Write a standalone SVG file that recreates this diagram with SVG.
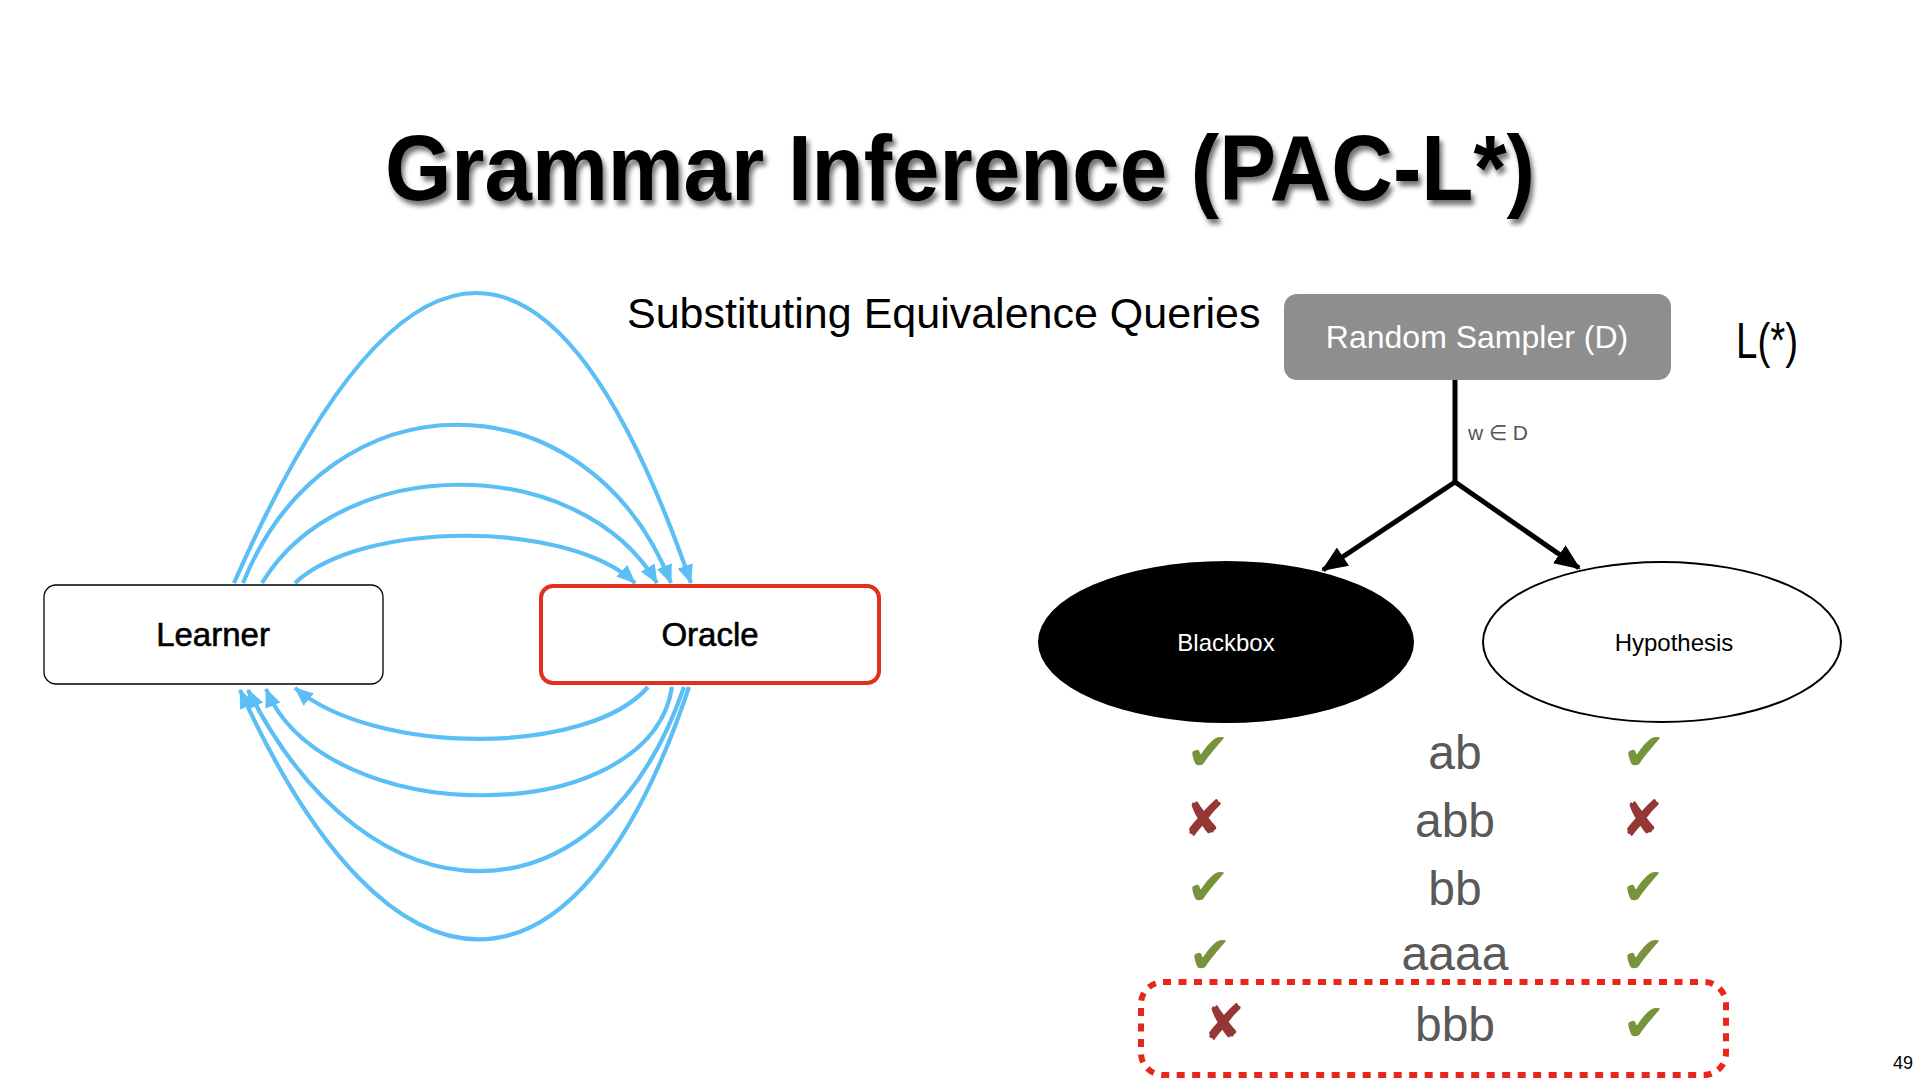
<svg xmlns="http://www.w3.org/2000/svg" width="1920" height="1080" viewBox="0 0 1920 1080">
<style>
.t{font-family:"Liberation Sans",Arial,sans-serif}
.blue{fill:none;stroke:#5bbff5;stroke-width:4.2}
.node{font-family:"Liberation Sans",Arial,sans-serif;font-size:33px;text-anchor:middle;fill:#000;stroke:#000;stroke-width:0.6}
.word{font-family:"Liberation Sans",Arial,sans-serif;font-size:48px;text-anchor:middle;fill:#595959}
.ok{font-family:"DejaVu Sans",sans-serif;font-size:52px;text-anchor:middle;fill:#77933c}
.no{font-family:"DejaVu Sans",sans-serif;font-size:50px;text-anchor:middle;fill:#953735}
</style>
<defs>
<filter id="sh" x="-5%" y="-20%" width="110%" height="150%">
<feGaussianBlur in="SourceAlpha" stdDeviation="2.5"/>
<feOffset dx="3" dy="5" result="b"/>
<feComponentTransfer><feFuncA type="linear" slope="0.55"/></feComponentTransfer>
<feMerge><feMergeNode/><feMergeNode in="SourceGraphic"/></feMerge>
</filter>
<marker id="ab" markerUnits="userSpaceOnUse" markerWidth="19" markerHeight="16" refX="18" refY="8" orient="auto">
<path d="M0,0 L19,8 L0,16 z" fill="#5bbff5"/>
</marker>
<marker id="ak" markerUnits="userSpaceOnUse" markerWidth="26" markerHeight="22" refX="24" refY="11" orient="auto">
<path d="M0,0 L26,11 L0,22 z" fill="#000"/>
</marker>
</defs>
<rect width="1920" height="1080" fill="#fff"/>

<text class="t" x="960" y="200" font-size="92" font-weight="bold" text-anchor="middle" textLength="1150" lengthAdjust="spacingAndGlyphs" filter="url(#sh)">Grammar Inference (PAC-L*)</text>

<text class="t" x="627" y="328" font-size="43">Substituting Equivalence Queries</text>

<g id="connectors">
<path class="blue" marker-end="url(#ab)" d="M234,583 Q490,3 691,583"/>
<path class="blue" marker-end="url(#ab)" d="M243,583 C328,372 587,372 671,583"/>
<path class="blue" marker-end="url(#ab)" d="M262,583 C341,452 579,452 657,583"/>
<path class="blue" marker-end="url(#ab)" d="M295,583 C363,520 568,520 635,583"/>
<path class="blue" marker-end="url(#ab)" d="M648,687 C588,756 376,756 295,688"/>
<path class="blue" marker-end="url(#ab)" d="M672,687 C650,831 325,831 266,689"/>
<path class="blue" marker-end="url(#ab)" d="M684,687 C600,932 370,932 248,690"/>
<path class="blue" marker-end="url(#ab)" d="M689,687 C577,1023 391,1023 240,690"/>
<path d="M1455,378 V482" fill="none" stroke="#000" stroke-width="5"/>
<path d="M1455,482 L1323,570" fill="none" stroke="#000" stroke-width="5" marker-end="url(#ak)"/>
<path d="M1455,482 L1579,568" fill="none" stroke="#000" stroke-width="5" marker-end="url(#ak)"/>
<text class="t" x="1468" y="440" font-size="21" fill="#555">w ∈ D</text>
</g>

<g id="learner">
<rect x="44" y="585" width="339" height="99" rx="12" fill="#fff" stroke="#000" stroke-width="1.3"/>
<text class="node" x="213" y="646">Learner</text>
</g>

<g id="oracle">
<rect x="541" y="586" width="338" height="97" rx="12" fill="#fff" stroke="#e2301f" stroke-width="4"/>
<text class="node" x="710" y="646">Oracle</text>
</g>

<g id="sampler">
<rect x="1284" y="294" width="387" height="86" rx="13" fill="#8e8e8e"/>
<text class="t" x="1477" y="348" font-size="32" fill="#fff" text-anchor="middle">Random Sampler (D)</text>
</g>

<text class="t" x="1736" y="358" font-size="50" textLength="62" lengthAdjust="spacingAndGlyphs">L(*)</text>

<g id="blackbox">
<ellipse cx="1226" cy="642" rx="188" ry="81" fill="#000"/>
<text class="t" x="1226" y="651" font-size="24" fill="#fff" text-anchor="middle">Blackbox</text>
</g>

<g id="hypothesis">
<ellipse cx="1662" cy="642" rx="179" ry="80" fill="#fff" stroke="#000" stroke-width="2"/>
<text class="t" x="1674" y="651" font-size="24" fill="#000" text-anchor="middle">Hypothesis</text>
</g>

<g id="table">
<text class="word" x="1455" y="769">ab</text>
<text class="word" x="1455" y="837">abb</text>
<text class="word" x="1455" y="905">bb</text>
<text class="word" x="1455" y="970">aaaa</text>
<text class="word" x="1455" y="1041">bbb</text>
<text class="ok" x="1208" y="770">✔</text>
<text class="no" x="1204" y="836">✘</text>
<text class="ok" x="1208" y="905">✔</text>
<text class="ok" x="1210" y="973">✔</text>
<text class="no" x="1224" y="1040">✘</text>
<text class="ok" x="1644" y="770">✔</text>
<text class="no" x="1642" y="836">✘</text>
<text class="ok" x="1643" y="905">✔</text>
<text class="ok" x="1643" y="973">✔</text>
<text class="ok" x="1644" y="1041">✔</text>
<rect x="1141" y="982" width="585" height="93" rx="22" fill="none" stroke="#e8271b" stroke-width="6" stroke-dasharray="8 7.5"/>
</g>

<text class="t" x="1913" y="1069" font-size="18" text-anchor="end">49</text>
</svg>
